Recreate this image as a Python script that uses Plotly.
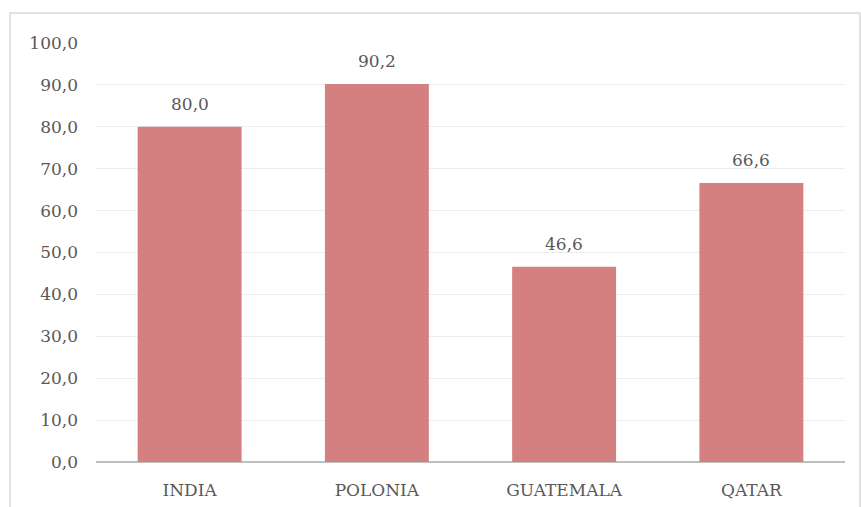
import plotly.graph_objects as go

countries = ["INDIA", "POLONIA", "GUATEMALA", "QATAR"]
values = [80.0, 90.2, 46.6, 66.6]
y_ticks = [0, 10, 20, 30, 40, 50, 60, 70, 80, 90, 100]

bar_color = "rgb(212,127,128)"
text_color = "#595959"
font_family = "DejaVu Serif"
font_size = 17

W, H = 861, 507
ml, mr, mt, mb = 96, 16, 43, 45
pw, ph = W - ml - mr, H - mt - mb

fig = go.Figure(
    go.Bar(
        x=countries,
        y=values,
        marker=dict(color=bar_color, line=dict(width=0)),
        width=0.555,
        hoverinfo="skip",
    )
)

# value labels above each bar
for c, v in zip(countries, values):
    fig.add_annotation(
        x=c, y=v, text=f"{v:.1f}".replace(".", ","),
        showarrow=False, yanchor="bottom", yshift=11,
        font=dict(family=font_family, size=font_size, color=text_color),
    )

# outer chart border
fig.add_shape(
    type="rect", xref="paper", yref="paper",
    x0=(10 - ml) / pw, x1=(860 - ml) / pw,
    y0=-0.3, y1=1 + (mt - 13) / ph,
    line=dict(color="#D9D9D9", width=1.5), fillcolor="rgba(0,0,0,0)",
    layer="below",
)

fig.update_layout(
    width=W, height=H,
    margin=dict(l=ml, r=mr, t=mt, b=mb),
    paper_bgcolor="white", plot_bgcolor="white",
    separators=",.",
    showlegend=False,
    font=dict(family=font_family, size=font_size, color=text_color),
    xaxis=dict(
        showgrid=False, zeroline=False,
        showline=False,
        tickfont=dict(family=font_family, size=font_size, color=text_color),
        ticklabelstandoff=16,
        automargin=False,
        fixedrange=True,
    ),
    yaxis=dict(
        range=[0, 100], tickvals=y_ticks, tickformat=".1f",
        showgrid=True, gridcolor="#EDEDED", gridwidth=1.2,
        zeroline=True, zerolinecolor="#BFBFBF", zerolinewidth=2,
        showline=False,
        tickfont=dict(family=font_family, size=font_size, color=text_color),
        ticklabelstandoff=17,
        automargin=False,
        fixedrange=True,
    ),
)

fig.write_html("out.html")
